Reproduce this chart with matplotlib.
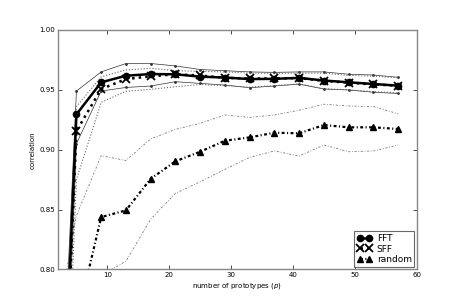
import matplotlib
matplotlib.use("Agg")
import matplotlib.pyplot as plt

x = [1, 5, 9, 13, 17, 21, 25, 29, 33, 37, 41, 45, 49, 53, 57]

fft = [0.45, 0.9295, 0.9563, 0.9618, 0.9632, 0.9630, 0.9610, 0.9603, 0.9590, 0.9592, 0.9600, 0.9578, 0.9563, 0.9549, 0.9535]
fft_hi = [0.50, 0.949, 0.965, 0.972, 0.972, 0.970, 0.967, 0.966, 0.965, 0.9646, 0.965, 0.965, 0.963, 0.9624, 0.9605]
fft_lo = [0.40, 0.905, 0.949, 0.952, 0.9532, 0.9568, 0.9554, 0.954, 0.9518, 0.9532, 0.9548, 0.9507, 0.9499, 0.948, 0.947]

sff = [0.42, 0.9156, 0.9507, 0.959, 0.9613, 0.9630, 0.9620, 0.9600, 0.9595, 0.9595, 0.9598, 0.9575, 0.9560, 0.9545, 0.9535]
sff_hi = [0.47, 0.936, 0.961, 0.9666, 0.968, 0.966, 0.9655, 0.965, 0.964, 0.9638, 0.964, 0.964, 0.962, 0.9615, 0.960]
sff_lo = [0.38, 0.875, 0.9396, 0.9488, 0.9504, 0.9526, 0.9545, 0.9535, 0.9522, 0.9535, 0.955, 0.951, 0.950, 0.9485, 0.9475]

rnd = [0.60, 0.756, 0.8437, 0.8493, 0.8757, 0.8903, 0.8983, 0.9075, 0.9103, 0.9142, 0.9137, 0.9206, 0.9187, 0.9187, 0.9173]
rnd_hi = [0.73, 0.845, 0.895, 0.891, 0.909, 0.917, 0.922, 0.929, 0.927, 0.929, 0.933, 0.938, 0.9365, 0.936, 0.930]
rnd_lo = [0.55, 0.70, 0.795, 0.8068, 0.842, 0.8635, 0.8732, 0.8836, 0.8936, 0.899, 0.8947, 0.9039, 0.8983, 0.8989, 0.9039]

xticks = [10, 20, 30, 40, 50, 60]
yticks = [0.80, 0.85, 0.90, 0.95, 1.00]

fig = plt.figure(figsize=(4.63, 3.0), dpi=100)
ax = fig.add_axes([0.125, 0.102, 0.775, 0.798])

dashdot_fine = (0, (1.3, 1.1, 0.5, 1.1))

ax.plot(x, fft_hi, '-', color='#333333', marker='.', ms=2, lw=0.5)
ax.plot(x, fft_lo, '-', color='#333333', marker='.', ms=2, lw=0.5)
ax.plot(x, sff_hi, ':', color='#666666', lw=0.8)
ax.plot(x, sff_lo, ':', color='#666666', lw=0.8)
ax.plot(x, rnd_hi, linestyle=(0, (2.5, 2.0, 1.0, 2.0)), color='#777777', lw=0.6)
ax.plot(x, rnd_lo, linestyle=(0, (2.5, 2.0, 1.0, 2.0)), color='#777777', lw=0.6)

ax.plot(x, fft, '-', color='black', lw=1.8, marker='o', ms=4.5, label='FFT')
ax.plot(x, sff, ':', color='black', lw=1.8, marker='x', ms=5.5, mew=1.3, label='SFF')
ax.plot(x, rnd, linestyle=dashdot_fine, color='black', lw=1.6, marker='^', ms=4.5, label='random')

ax.set_xlim(2, 60)
ax.set_ylim(0.80, 1.00)
ax.set_xticks(xticks)
ax.set_yticks(yticks)
ax.set_yticklabels(['%.2f' % v for v in yticks])
ax.tick_params(direction='in', top=True, right=True, labelsize=5, length=3, width=0.5, pad=2, colors='black')
for s in ax.spines.values():
    s.set_color('#888888')
    s.set_linewidth(1.0)

ax.set_xlabel('number of prototypes ($p$)', fontsize=5, labelpad=2)
ax.set_ylabel('correlation', fontsize=5, labelpad=3)

leg = ax.legend(loc='lower right', numpoints=2, fontsize=6.5, fancybox=False,
                handlelength=1.6, borderpad=0.3, labelspacing=0.2, handletextpad=0.6,
                borderaxespad=0.25)
leg.get_frame().set_edgecolor('#444444')
leg.get_frame().set_linewidth(0.8)

fig.savefig('out.png', dpi=100, facecolor='white')
